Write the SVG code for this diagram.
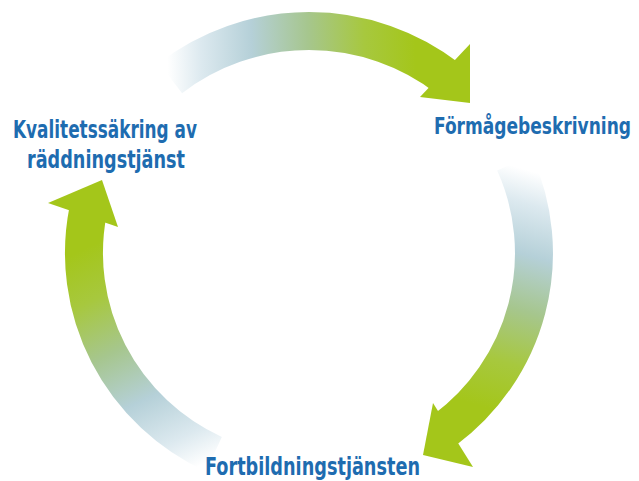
<svg xmlns="http://www.w3.org/2000/svg" width="639" height="481" viewBox="0 0 639 481">
  <style>
    .lbl { font-family: "Liberation Sans Narrow", "DejaVu Sans Condensed", "Liberation Sans", sans-serif; font-weight: bold; font-size: 25px; fill: #1e6cb0; }
    .shaft { fill: none; stroke-width: 38; stroke-linecap: butt; }
  </style>
  <defs>
    <linearGradient id="gTop" gradientUnits="userSpaceOnUse" x1="168" y1="80" x2="450" y2="72">
      <stop offset="0" stop-color="#ffffff"/>
      <stop offset="0.12" stop-color="#dce9ef"/>
      <stop offset="0.3" stop-color="#b5d0d8"/>
      <stop offset="0.5" stop-color="#a6c68e"/>
      <stop offset="0.7" stop-color="#a7c83e"/>
      <stop offset="0.88" stop-color="#a4c61a"/>
      <stop offset="1" stop-color="#a4c61a"/>
    </linearGradient>
    <linearGradient id="gRight" gradientUnits="userSpaceOnUse" x1="520" y1="168" x2="445" y2="430">
      <stop offset="0" stop-color="#ffffff"/>
      <stop offset="0.12" stop-color="#dce9ef"/>
      <stop offset="0.3" stop-color="#b5d0d8"/>
      <stop offset="0.5" stop-color="#a6c68e"/>
      <stop offset="0.7" stop-color="#a7c83e"/>
      <stop offset="0.88" stop-color="#a4c61a"/>
      <stop offset="1" stop-color="#a4c61a"/>
    </linearGradient>
    <linearGradient id="gLeft" gradientUnits="userSpaceOnUse" x1="208" y1="462" x2="88" y2="210">
      <stop offset="0" stop-color="#ffffff"/>
      <stop offset="0.12" stop-color="#dce9ef"/>
      <stop offset="0.3" stop-color="#b5d0d8"/>
      <stop offset="0.5" stop-color="#a6c68e"/>
      <stop offset="0.7" stop-color="#a7c83e"/>
      <stop offset="0.88" stop-color="#a4c61a"/>
      <stop offset="1" stop-color="#a4c61a"/>
    </linearGradient>
  </defs>

  <g id="connectors">
    <g id="arrow-top">
      <path class="shaft" stroke="url(#gTop)" d="M170.5,78.1 A225,222 0 0 1 447.5,78.1"/>
      <polygon fill="url(#gTop)" points="470,44 470,103 420,97"/>
    </g>
    <g id="arrow-right">
      <path class="shaft" stroke="url(#gRight)" d="M514.5,162.7 A225,222 0 0 1 444.4,430.3"/>
      <polygon fill="url(#gRight)" points="433,403 473,467 423,455"/>
    </g>
    <g id="arrow-left">
      <path class="shaft" stroke="url(#gLeft)" d="M213.9,454.2 A225,222 0 0 1 88.1,210.6"/>
      <polygon fill="url(#gLeft)" points="48,203 118,227 102,180"/>
    </g>
  </g>

  <g id="node-kvalitet">
    <text class="lbl" x="105" y="138" text-anchor="middle" textLength="184" lengthAdjust="spacingAndGlyphs">Kvalitetssäkring av</text>
    <text class="lbl" x="106" y="168" text-anchor="middle" textLength="158" lengthAdjust="spacingAndGlyphs">räddningstjänst</text>
  </g>
  <g id="node-formaga">
    <text class="lbl" x="434" y="134" style="font-size:23.5px" textLength="197" lengthAdjust="spacingAndGlyphs">Förmågebeskrivning</text>
  </g>
  <g id="node-fortbildning">
    <text class="lbl" x="205" y="475" textLength="215" lengthAdjust="spacingAndGlyphs">Fortbildningstjänsten</text>
  </g>
</svg>
